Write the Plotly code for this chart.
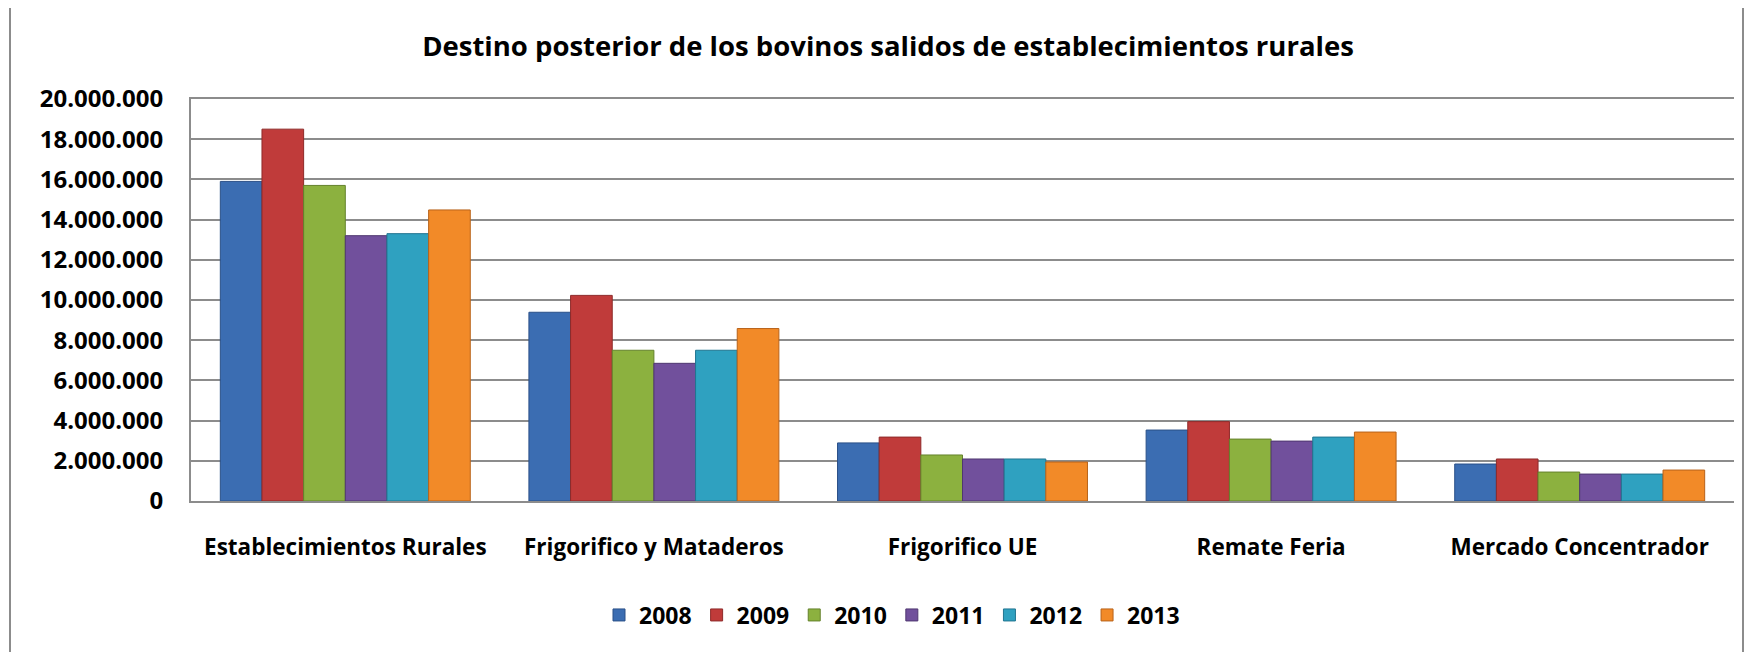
import plotly.graph_objects as go

# destinations (x categories) and yearly series
destinos = ['Establecimientos Rurales', 'Frigorifico y Mataderos',
            'Frigorifico UE', 'Remate Feria', 'Mercado Concentrador']
anios = ['2008', '2009', '2010', '2011', '2012', '2013']

v2008 = [15_900_000, 9_390_000, 2_890_000, 3_530_000, 1_840_000]
v2009 = [18_500_000, 10_230_000, 3_180_000, 3_950_000, 2_090_000]
v2010 = [15_700_000, 7_500_000, 2_290_000, 3_080_000, 1_440_000]
v2011 = [13_200_000, 6_850_000, 2_090_000, 2_980_000, 1_340_000]
v2012 = [13_300_000, 7_500_000, 2_090_000, 3_180_000, 1_340_000]
v2013 = [14_480_000, 8_580_000, 1_940_000, 3_430_000, 1_540_000]
series = [v2008, v2009, v2010, v2011, v2012, v2013]

colores = ['#3B6DB2', '#C03B3A', '#8CB13F', '#71509C', '#2FA1C0', '#F28A28']
bordes = ['#2A5088', '#8E2A29', '#64822C', '#4F3770', '#217590', '#B8631A']

FONT = 'Open Sans'
GRID = '#8C8C8C'

fig = go.Figure()
for anio, vals, col, brd in zip(anios, series, colores, bordes):
    fig.add_trace(go.Bar(
        name=anio, x=destinos, y=vals,
        marker=dict(color=col, line=dict(color=brd, width=1)),
    ))

# the page body adds an 8px margin, so target pixels are shifted by it
OFF = 8
W, H = 1758 - OFF, 652 - OFF
L, R, T, B = 191 - OFF, 1734 - OFF, 99 - OFF, 501 - OFF
pw, ph = R - L, B - T


def px_x(p):
    return (p - OFF - L) / pw


def px_y(p):
    return (B - (p - OFF)) / ph


fig.update_layout(
    width=W, height=H,
    margin=dict(l=L, r=W - R, t=T, b=H - B),
    paper_bgcolor='white', plot_bgcolor='white',
    separators=',.',
    barmode='group', bargap=0.19, bargroupgap=0,
    font=dict(family=FONT, size=23, color='black', weight='bold'),
    title=dict(
        text='Destino posterior de los bovinos salidos de establecimientos rurales',
        font=dict(family=FONT, size=27.5, color='black', weight='bold'),
        x=(888 - OFF) / W, xanchor='center', xref='container',
        y=1 - (46 - OFF) / H, yanchor='middle', yref='container',
    ),
    legend=dict(
        orientation='h', x=px_x(892), xanchor='center',
        y=px_y(615), yanchor='middle',
        font=dict(family=FONT, size=23, color='black', weight='bold'),
        bgcolor='rgba(0,0,0,0)',
    ),
    showlegend=True,
    shapes=[dict(
        type='rect', xref='paper', yref='paper',
        x0=px_x(10), x1=px_x(1743), y0=px_y(700), y1=px_y(5),
        line=dict(color=GRID, width=2), fillcolor='rgba(0,0,0,0)',
        layer='below',
    )],
)

fig.update_xaxes(
    showline=True, linecolor=GRID, linewidth=2, mirror=True,
    showgrid=False, ticks='', ticklabelstandoff=25,
    tickfont=dict(family=FONT, size=22.5, color='black', weight='bold'),
)
fig.update_yaxes(
    range=[0, 20_000_000], dtick=2_000_000, tickformat=',d',
    showline=True, linecolor=GRID, linewidth=2,
    showgrid=True, gridcolor=GRID, gridwidth=2,
    zeroline=False, ticks='', ticklabelstandoff=21,
    tickfont=dict(family=FONT, size=24, color='black', weight='bold'),
)

fig.write_html('out.html')
